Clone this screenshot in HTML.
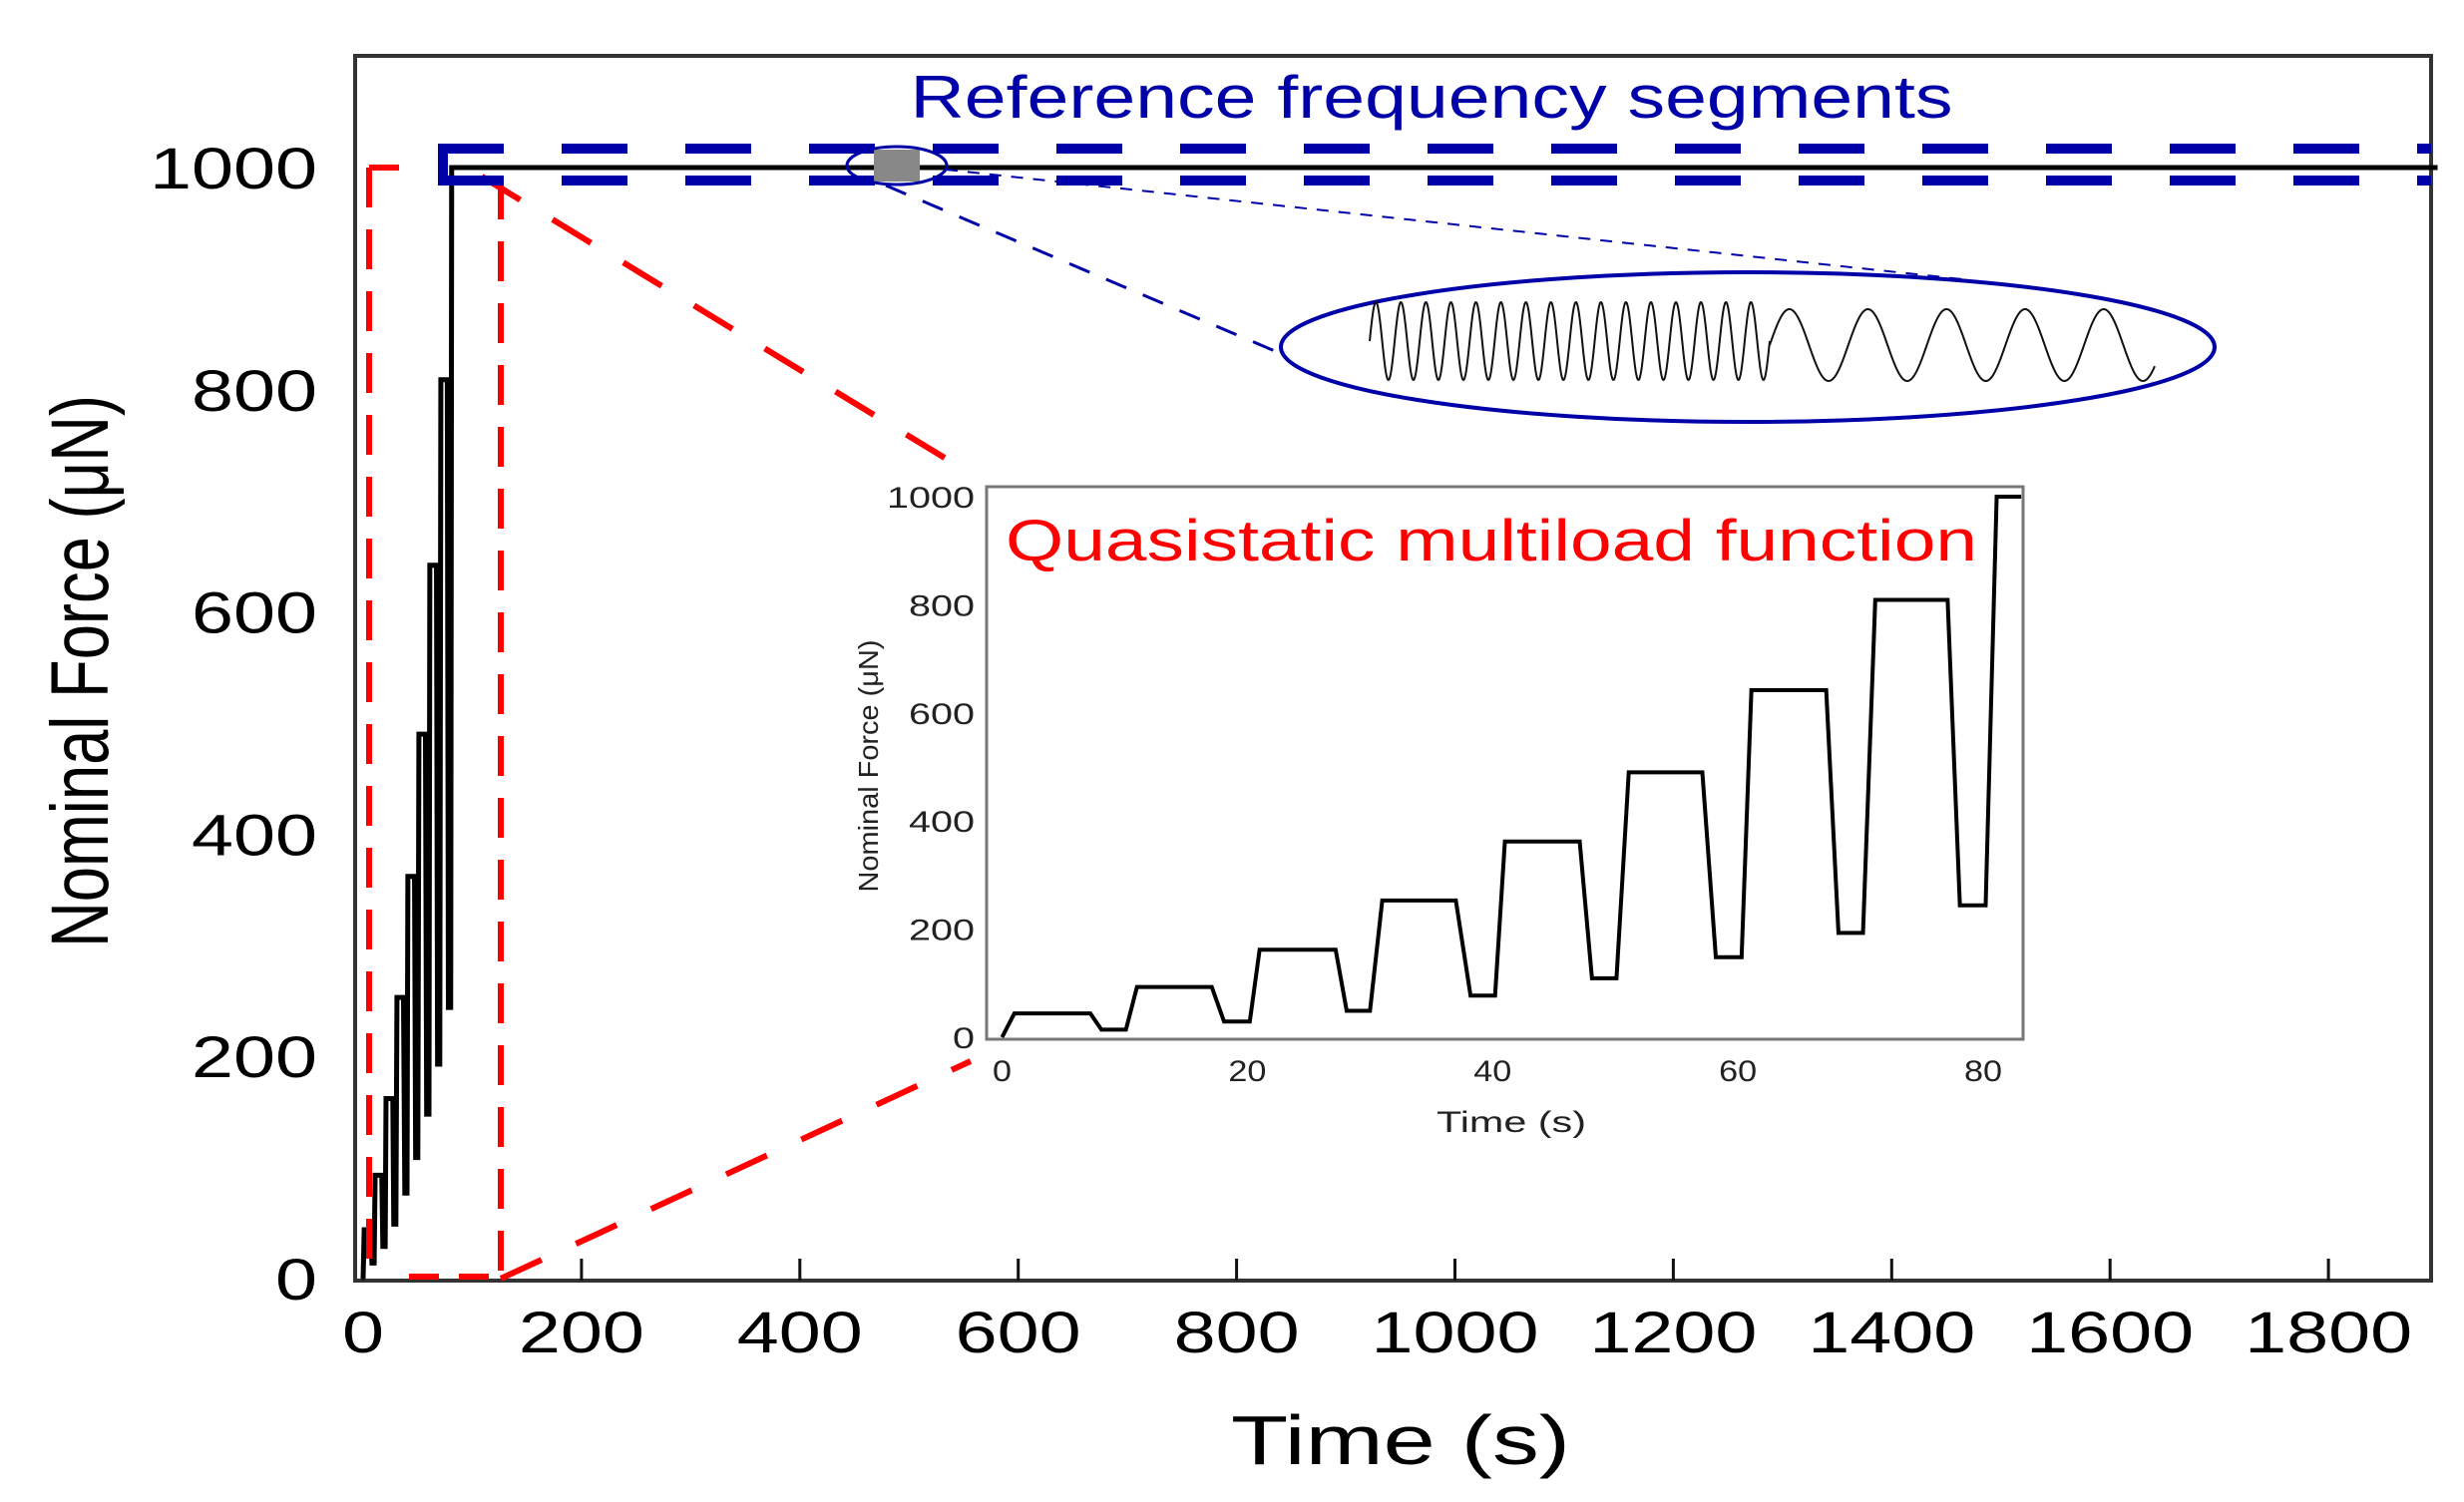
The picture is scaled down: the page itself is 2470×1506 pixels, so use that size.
<!DOCTYPE html>
<html><head><meta charset="utf-8"><style>
html,body{margin:0;padding:0;background:#fff;}
svg{display:block;font-family:"Liberation Sans",sans-serif;}
</style></head><body>
<svg id="chart" width="2470" height="1506" viewBox="0 0 2470 1506" xmlns="http://www.w3.org/2000/svg">
<rect x="0" y="0" width="2470" height="1506" fill="#fff"/>
<g id="main"></g>
<g id="anno"></g>
<g id="inset"></g>
</svg>
<script>
const times = [0, 1, 7.2, 8.1, 10.1, 11, 17.1, 18.1, 20.2, 21, 27.2, 28.1, 30, 31, 37, 38.2, 40.2, 41, 47.1, 48.1, 50.1, 51.1, 57.1, 58.2, 60.3, 61.1, 67.2, 68.2, 70.2, 71.2, 77.1, 78.1, 80.2, 81.1, 83.1];
const forces = [0, 44, 44, 14, 14, 93, 93, 29, 29, 162, 162, 49, 49, 253, 253, 77, 77, 362, 362, 109, 109, 490, 490, 148, 148, 642, 642, 193, 193, 809, 809, 244, 244, 1000, 1000];
const mainEndTime = 1900;
const mainXTicks = [0, 200, 400, 600, 800, 1000, 1200, 1400, 1600, 1800];
const mainYTicks = [0, 200, 400, 600, 800, 1000];
const insetXTicks = [0, 20, 40, 60, 80];
const insetYTicks = [0, 200, 400, 600, 800, 1000];

const NS = "http://www.w3.org/2000/svg";
function mk(parent, tag, attrs, text) {
  const e = document.createElementNS(NS, tag);
  for (const k in attrs) e.setAttribute(k, attrs[k]);
  if (text !== undefined) e.textContent = text;
  parent.appendChild(e);
  return e;
}
// main axes
const mx = t => 364 + t * 1.0945;
const my = v => 1282 - v * 1.114;
const ix = t => 1004.5 + t * 12.294;
const iy = v => 1040 - v * 0.542;

const main = document.getElementById('main');
const frame = mk(main, 'rect', {x: 356, y: 56, width: 2081, height: 1228, fill: 'none', stroke: '#333', 'stroke-width': 4});



mainXTicks.forEach(t => {
  const tk = mk(main, 'line', {x1: mx(t), x2: mx(t), y1: 1284, y2: 1262, stroke: '#111', 'stroke-width': 3});
  
  
  const s = String(t);
  const lb = mk(main, 'text', {x: mx(t), y: 1356, 'text-anchor': 'middle', 'font-size': 58, textLength: s.length * 42, lengthAdjust: 'spacingAndGlyphs', fill: '#000'}, s);
  
  
});
mainYTicks.forEach(v => {
  const s = String(v);
  const lb = mk(main, 'text', {x: 318, y: my(v) + 21, 'text-anchor': 'end', 'font-size': 58, textLength: s.length * 42, lengthAdjust: 'spacingAndGlyphs', fill: '#000'}, s);
  
  
});
const xt = mk(main, 'text', {x: 1404, y: 1468, 'text-anchor': 'middle', 'font-size': 70, textLength: 340, lengthAdjust: 'spacingAndGlyphs', fill: '#000'}, 'Time (s)');


const yt = mk(main, 'text', {x: 0, y: 0, transform: 'translate(108,673) rotate(-90)', 'text-anchor': 'middle', 'font-size': 82, textLength: 554, lengthAdjust: 'spacingAndGlyphs', fill: '#000'}, 'Nominal Force (μN)');



let mp = times.map((t, i) => mx(t) + ',' + my(forces[i]));
mp.push(mx(mainEndTime) + ',' + my(forces[forces.length - 1]));
const ml = mk(main, 'polyline', {points: mp.join(' '), fill: 'none', stroke: '#000', 'stroke-width': 5});



// annotations
const anno = document.getElementById('anno');
function dline(x1, y1, x2, y2, col, w, dash, name) {
  const l = mk(anno, 'line', {x1, y1, x2, y2, stroke: col, 'stroke-width': w, 'stroke-dasharray': dash});
  
  
}
const red = '#f00', blue = '#0000a8';
dline(370, 168, 410, 168, red, 6, '30 20', 'red-zoom-box-top');
dline(370, 168, 370, 1282, red, 6, '40 22', 'red-zoom-box-left');
dline(502, 180, 502, 1282, red, 6, '40 22', 'red-zoom-box-right');
dline(410, 1280, 502, 1280, red, 6, '30 20', 'red-zoom-box-bottom');
dline(483, 177, 978, 478, red, 6, '45 38', 'red-connector-top');
dline(502, 1282, 973, 1064, red, 6, '45 38', 'red-connector-bottom');
dline(439, 149, 2437, 149, blue, 10, '66 58', 'blue-box-top');
dline(439, 181, 2437, 181, blue, 10, '66 58', 'blue-box-bottom');
dline(444, 149, 444, 181, blue, 10, 'none', 'blue-box-left');
dline(888, 186, 1285, 355, blue, 3, '22 18', 'blue-connector-lower');
dline(948, 170, 1967, 280, blue, 2, '12 10', 'blue-connector-upper');
const gr = mk(anno, 'rect', {x: 876, y: 150, width: 46, height: 32, fill: '#888'});


const se = mk(anno, 'ellipse', {cx: 899, cy: 166, rx: 50, ry: 19, fill: 'none', stroke: blue, 'stroke-width': 3});


const be = mk(anno, 'ellipse', {cx: 1752, cy: 348, rx: 468, ry: 75, fill: 'none', stroke: blue, 'stroke-width': 4});


// sine wave illustration
let sp = [];
for (let i = 0; i <= 800; i++) {
  const x = 1373 + (1774 - 1373) * i / 800;
  const ph = 16 * 2 * Math.PI * i / 800;
  sp.push(x + ',' + (342 - 39 * Math.sin(ph)));
}
for (let i = 0; i <= 400; i++) {
  const x = 1774 + (2160 - 1774) * i / 400;
  const ph = 4.9 * 2 * Math.PI * i / 400;
  sp.push(x + ',' + (346 - 36 * Math.sin(ph)));
}
const sw = mk(anno, 'polyline', {points: sp.join(' '), fill: 'none', stroke: '#111', 'stroke-width': 2});


const rt = mk(anno, 'text', {x: 1435, y: 118, 'text-anchor': 'middle', 'font-size': 60, textLength: 1045, lengthAdjust: 'spacingAndGlyphs', fill: blue}, 'Reference frequency segments');



// inset
const inset = document.getElementById('inset');
const ib = mk(inset, 'rect', {x: 989, y: 488, width: 1039, height: 554, fill: '#fff', stroke: '#777', 'stroke-width': 3});


insetXTicks.forEach(t => {
  const s = String(t);
  const lb = mk(inset, 'text', {x: ix(t), y: 1084, 'text-anchor': 'middle', 'font-size': 30, textLength: s.length * 19, lengthAdjust: 'spacingAndGlyphs', fill: '#222'}, s);
  
  
});
insetYTicks.forEach(v => {
  const s = String(v);
  const lb = mk(inset, 'text', {x: 977, y: iy(v) + 11, 'text-anchor': 'end', 'font-size': 30, textLength: s.length * 22, lengthAdjust: 'spacingAndGlyphs', fill: '#222'}, s);
  
  
});
const ixt = mk(inset, 'text', {x: 1515, y: 1135, 'text-anchor': 'middle', 'font-size': 30, textLength: 150, lengthAdjust: 'spacingAndGlyphs', fill: '#222'}, 'Time (s)');


const iyt = mk(inset, 'text', {x: 0, y: 0, transform: 'translate(880,768) rotate(-90)', 'text-anchor': 'middle', 'font-size': 28, textLength: 253, lengthAdjust: 'spacingAndGlyphs', fill: '#222'}, 'Nominal Force (μN)');


const ip = times.map((t, i) => ix(t) + ',' + iy(forces[i])).join(' ');
const il = mk(inset, 'polyline', {points: ip, fill: 'none', stroke: '#000', 'stroke-width': 4});


const qt = mk(inset, 'text', {x: 1008, y: 562, 'font-size': 58, textLength: 974, lengthAdjust: 'spacingAndGlyphs', fill: '#f00'}, 'Quasistatic multiload function');


</script>
</body></html>
